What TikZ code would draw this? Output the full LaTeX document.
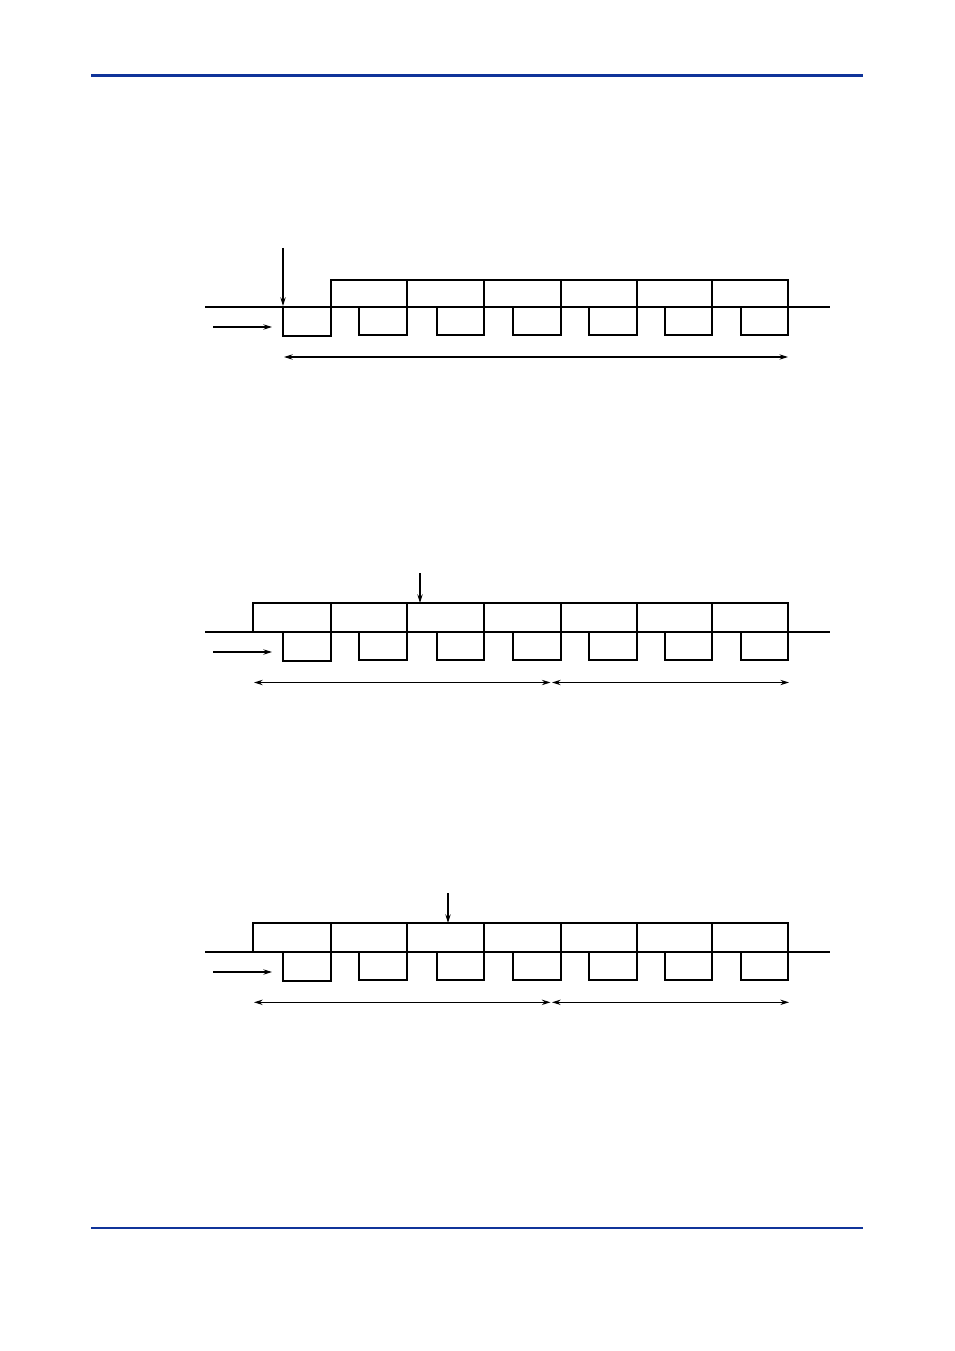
\documentclass[tikz,border=0pt]{standalone}
\usetikzlibrary{arrows.meta}
\definecolor{rulebl}{HTML}{10349A}
\begin{document}
\begin{tikzpicture}[x=0.75pt,y=-0.75pt,
  sig/.style={line width=0.8pt,line join=miter},
  arr/.style={line width=0.8pt,-{Stealth[length=6.5pt,width=4pt]}},
  darr/.style={line width=0.8pt,{Stealth[length=6.5pt,width=4pt]}-{Stealth[length=6.5pt,width=4pt]}}]
\useasboundingbox (0,0) rectangle (954,1351);
\fill[white] (0,0) rectangle (954,1351);
% header/footer rules
\draw[rulebl,line width=2.6pt] (91,75.3) -- (863,75.3);
\draw[rulebl,line width=1.8pt] (91,1227.7) -- (863,1227.7);

% ---------- Diagram 1 ----------
\begin{scope}[shift={(0,307)}]
  \draw[sig] (205,0) -- (830,0);
  \draw[sig] (331,0) rectangle (788,-27);
  \foreach \x in {407,484,561,637,712} \draw[sig] (\x,0) -- (\x,-27);
  \draw[sig] (283,1) -- (283,29) -- (331,29) -- (331,0);
  \foreach \a/\b in {359/407,437/484,513/561,589/637,665/712,741/788}
    \draw[sig] (\a,0) -- (\a,28) -- (\b,28) -- (\b,0);
  \coordinate (t1a) at (283,-59); \coordinate (t1b) at (283,-1);
  \draw[arr] (t1a) -- (t1b);
  \coordinate (i1a) at (213,20); \coordinate (i1b) at (272,20);
  \draw[arr] (i1a) -- (i1b);
  \coordinate (d1a) at (284,50); \coordinate (d1b) at (788,50);
  \draw[darr] (d1a) -- (d1b);
\end{scope}

% ---------- Diagram 2 ----------
\begin{scope}[shift={(0,632)}]
  \draw[sig] (205,0) -- (830,0);
  \draw[sig] (253,0) rectangle (788,-29);
  \foreach \x in {331,407,484,561,637,712} \draw[sig] (\x,0) -- (\x,-29);
  \draw[sig] (283,0) -- (283,29) -- (331,29) -- (331,0);
  \foreach \a/\b in {359/407,437/484,513/561,589/637,665/712,741/788}
    \draw[sig] (\a,0) -- (\a,28) -- (\b,28) -- (\b,0);
  \coordinate (t2a) at (420,-59); \coordinate (t2b) at (420,-29);
  \draw[arr] (t2a) -- (t2b);
  \coordinate (i2a) at (213,20); \coordinate (i2b) at (272,20);
  \draw[arr] (i2a) -- (i2b);
  \coordinate (d2a) at (254,50.5); \coordinate (d2b) at (550.5,50.5);
  \coordinate (d2c) at (552,50.5); \coordinate (d2d) at (789,50.5);
  \draw[darr] (d2a) -- (d2b);
  \draw[darr] (d2c) -- (d2d);
\end{scope}

% ---------- Diagram 3 ----------
\begin{scope}[shift={(0,952)}]
  \draw[sig] (205,0) -- (830,0);
  \draw[sig] (253,0) rectangle (788,-29);
  \foreach \x in {331,407,484,561,637,712} \draw[sig] (\x,0) -- (\x,-29);
  \draw[sig] (283,0) -- (283,29) -- (331,29) -- (331,0);
  \foreach \a/\b in {359/407,437/484,513/561,589/637,665/712,741/788}
    \draw[sig] (\a,0) -- (\a,28) -- (\b,28) -- (\b,0);
  \coordinate (t3a) at (448,-59); \coordinate (t3b) at (448,-29);
  \draw[arr] (t3a) -- (t3b);
  \coordinate (i3a) at (213,20); \coordinate (i3b) at (272,20);
  \draw[arr] (i3a) -- (i3b);
  \coordinate (d3a) at (254,50.3); \coordinate (d3b) at (550.5,50.3);
  \coordinate (d3c) at (552,50.3); \coordinate (d3d) at (789,50.3);
  \draw[darr] (d3a) -- (d3b);
  \draw[darr] (d3c) -- (d3d);
\end{scope}
\end{tikzpicture}
\end{document}
